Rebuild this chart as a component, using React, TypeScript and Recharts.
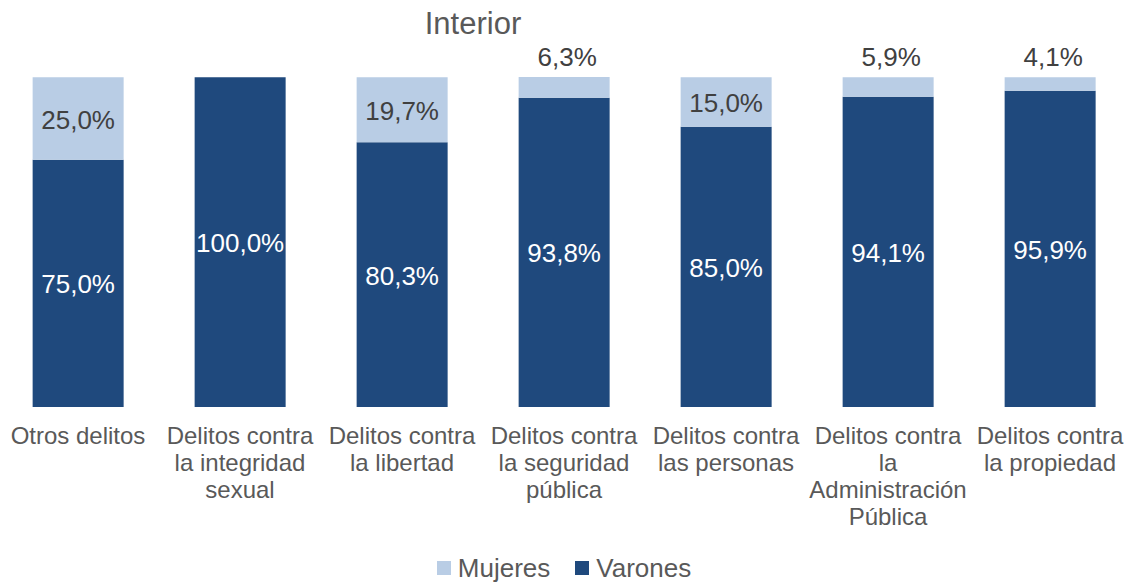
import React from 'react'
import { BarChart, Bar, XAxis, YAxis, Legend, LabelList } from 'recharts'

// ─── Data ────────────────────────────────────────────────────────

const CATEGORIES = [
  'Otros delitos',
  'Delitos contra\nla integridad\nsexual',
  'Delitos contra\nla libertad',
  'Delitos contra\nla seguridad\npública',
  'Delitos contra\nlas personas',
  'Delitos contra\nla\nAdministración\nPública',
  'Delitos contra\nla propiedad',
]
const VARONES = [75.0, 100.0, 80.3, 93.8, 85.0, 94.1, 95.9]
const MUJERES = [25.0, 0, 19.7, 6.3, 15.0, 5.9, 4.1]

const DARK = '#1f497d'
const LIGHT = '#b9cde5'
const FONT = '"Liberation Sans", Arial, sans-serif'

const data = CATEGORIES.map((name, i) => ({
  name,
  varones: VARONES[i],
  mujeres: MUJERES[i],
}))

const fmt = (v: number) => v.toFixed(1).replace('.', ',') + '%'

// ─── Custom pieces ───────────────────────────────────────────────

function CategoryTick({ x, y, payload }: any) {
  const lines = String(payload.value).split('\n')
  return (
    <text x={x} y={y + 37} textAnchor="middle" fill="#595959" fontSize={24} fontFamily={FONT}>
      {lines.map((l, i) => (
        <tspan key={i} x={x} dy={i === 0 ? 0 : 27}>{l}</tspan>
      ))}
    </text>
  )
}

function InsideLabel({ x, y, width, height, value, color }: any) {
  if (!value) return null
  return (
    <text
      x={x + width / 2}
      y={y + height / 2 + 10}
      textAnchor="middle"
      fill={color}
      fontSize={26}
      fontFamily={FONT}
    >
      {fmt(value)}
    </text>
  )
}

function MujeresLabel(props: any) {
  const { x, y, width, value } = props
  if (!value) return null
  if (value < 10) {
    return (
      <text x={x + width / 2 + 3} y={y - 11} textAnchor="middle" fill="#404040" fontSize={26} fontFamily={FONT}>
        {fmt(value)}
      </text>
    )
  }
  return <InsideLabel {...props} color="#404040" />
}

function LegendContent() {
  const items = [
    { name: 'Mujeres', color: LIGHT },
    { name: 'Varones', color: DARK },
  ]
  return (
    <div style={{ height: 36, paddingTop: 22, boxSizing: 'border-box', display: 'flex', justifyContent: 'center', gap: 25, fontFamily: FONT, fontSize: 26, lineHeight: '26px', color: '#595959' }}>
      {items.map((it) => (
        <div key={it.name} style={{ display: 'flex', alignItems: 'center', gap: 7 }}>
          <div style={{ width: 14, height: 14, background: it.color }} />
          <span>{it.name}</span>
        </div>
      ))}
    </div>
  )
}

// ─── Main ────────────────────────────────────────────────────────

export default function App() {
  return (
    <div style={{ position: 'absolute', left: -3, top: 0, width: 1134, height: 583, background: '#fff' }}>
      <div
        style={{
          position: 'absolute',
          left: 476 - 100,
          width: 200,
          top: 6,
          textAlign: 'center',
          fontFamily: FONT,
          fontSize: 31,
          color: '#595959',
        }}
      >
        Interior
      </div>
      <BarChart
        width={1134}
        height={583}
        data={data}
        margin={{ top: 77, right: 0, left: 0, bottom: 8 }}
        barCategoryGap="22%"
      >
        <XAxis
          dataKey="name"
          axisLine={false}
          tickLine={false}
          tickSize={0}
          tickMargin={0}
          height={132}
          interval={0}
          tick={<CategoryTick />}
        />
        <YAxis hide domain={[0, 100]} />
        <Legend verticalAlign="bottom" height={36} content={<LegendContent />} />
        <Bar dataKey="varones" name="Varones" stackId="a" fill={DARK} isAnimationActive={false}>
          <LabelList dataKey="varones" content={<InsideLabel color="#ffffff" />} />
        </Bar>
        <Bar dataKey="mujeres" name="Mujeres" stackId="a" fill={LIGHT} isAnimationActive={false}>
          <LabelList dataKey="mujeres" content={<MujeresLabel />} />
        </Bar>
      </BarChart>
    </div>
  )
}
